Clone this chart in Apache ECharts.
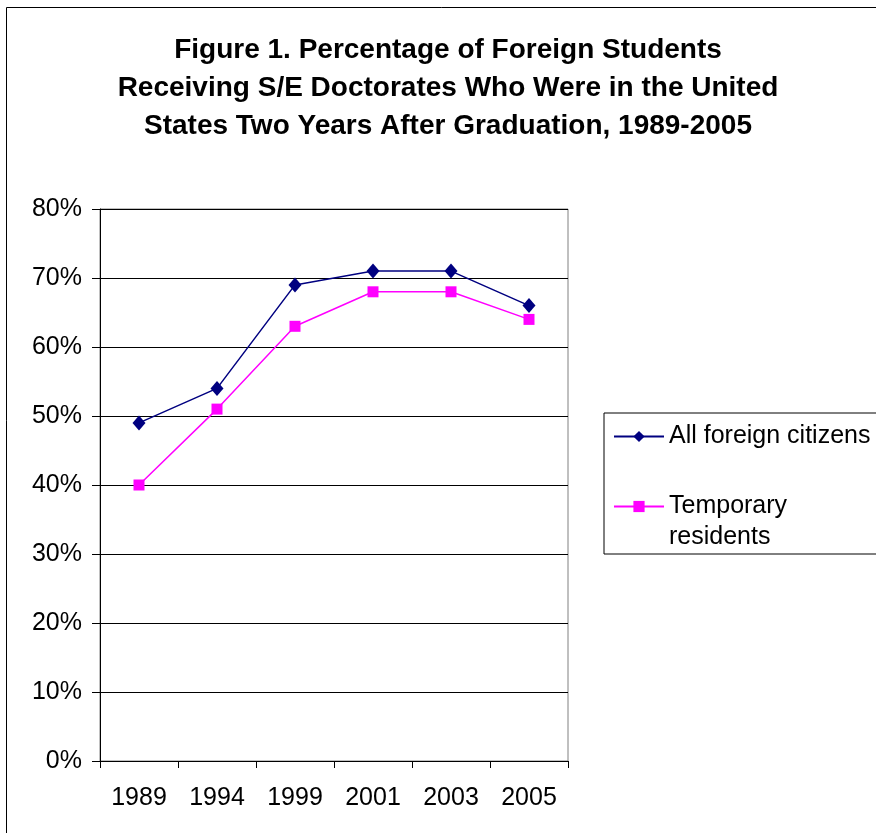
<!DOCTYPE html>
<html>
<head>
<meta charset="utf-8">
<script src="https://cdn.jsdelivr.net/npm/echarts@6/dist/echarts.min.js"></script>
<style>
html,body{margin:0;padding:0;background:#fff;}
#chart{width:876px;height:833px;}
</style>
</head>
<body>
<div id="chart"></div>
<script>
var categories = ['1989', '1994', '1999', '2001', '2003', '2005'];
var allForeign = [49, 54, 69, 71, 71, 66];
var temporary = [40, 51, 63, 68, 68, 64];
var yTicks = [0, 10, 20, 30, 40, 50, 60, 70, 80];
var seriesNames = ['All foreign citizens', 'Temporary residents'];

var FONT = 'Arial, "Liberation Sans", sans-serif';
var chart = echarts.init(document.getElementById('chart'));
chart.setOption({
  animation: false,
  backgroundColor: '#fff',
  title: {
    text: 'Figure 1. Percentage of Foreign Students\nReceiving S/E Doctorates Who Were in the United\nStates Two Years After Graduation, 1989-2005',
    left: 448,
    top: 31,
    padding: 0,
    textAlign: 'center',
    textStyle: { fontFamily: FONT, fontSize: 28, fontWeight: 'bold', color: '#000', lineHeight: 38 }
  },
  graphic: [{
    type: 'rect',
    shape: { x: 6.5, y: 7.5, width: 1000, height: 1000 },
    style: { fill: 'none', stroke: '#000', lineWidth: 1 },
    silent: true, z: -1
  }],
  legend: {
    orient: 'vertical',
    left: 604,
    top: 413,
    padding: [8, 16, 1, 9],
    itemGap: 8,
    itemWidth: 50,
    itemHeight: 14,
    borderColor: '#000',
    borderWidth: 1,
    backgroundColor: '#fff',
    data: seriesNames,
    formatter: function (name) {
      return name === 'Temporary residents' ? '\nTemporary\nresidents' : name;
    },
    textStyle: { fontFamily: FONT, fontSize: 25, color: '#000', lineHeight: 31 }
  },
  grid: {
    left: 100, right: 308, top: 209, bottom: 72,
    show: true, borderColor: '#808080', borderWidth: 1, backgroundColor: 'transparent'
  },
  xAxis: {
    type: 'category',
    data: categories,
    boundaryGap: true,
    axisLine: { lineStyle: { color: '#000', width: 1 } },
    axisTick: { show: true, length: 7, lineStyle: { color: '#000' } },
    axisLabel: { fontFamily: FONT, fontSize: 25, color: '#000', margin: 25 },
    splitLine: { show: false }
  },
  yAxis: {
    type: 'value',
    min: 0, max: 80, interval: 10,
    axisLine: { show: true, lineStyle: { color: '#000', width: 1 } },
    axisTick: { show: true, length: 8, lineStyle: { color: '#000' } },
    axisLabel: { fontFamily: FONT, fontSize: 25, color: '#000', margin: 18,
      formatter: function (v) { return yTicks.indexOf(v) >= 0 ? v + '%' : ''; } },
    splitLine: { show: true, lineStyle: { color: '#000', width: 1 } }
  },
  series: [
    {
      name: seriesNames[0],
      type: 'line',
      data: allForeign,
      symbol: 'diamond',
      symbolSize: [13, 15],
      itemStyle: { color: '#000080' },
      lineStyle: { color: '#000080', width: 1.5 },
      z: 3
    },
    {
      name: seriesNames[1],
      type: 'line',
      data: temporary,
      symbol: 'rect',
      symbolSize: 11,
      itemStyle: { color: '#FF00FF' },
      lineStyle: { color: '#FF00FF', width: 1.5 },
      z: 2
    }
  ]
});
</script>
</body>
</html>
